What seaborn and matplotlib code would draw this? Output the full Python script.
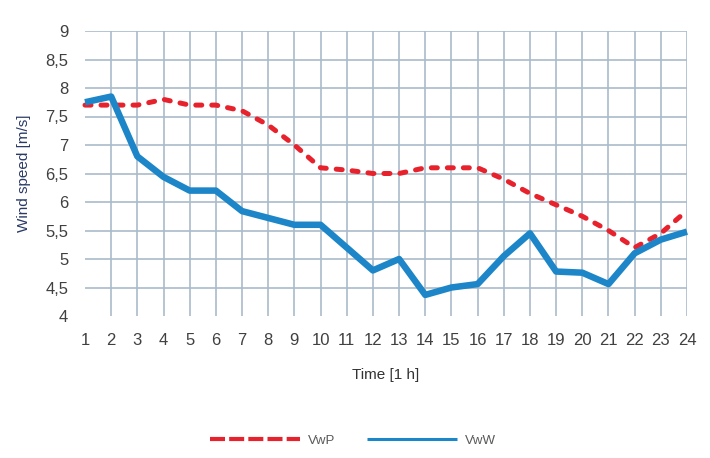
import numpy as np
import pandas as pd
import matplotlib
matplotlib.use("Agg")
import matplotlib.pyplot as plt
import seaborn as sns

hours = list(range(1, 25))
vwp = [7.7, 7.7, 7.7, 7.8, 7.7, 7.7, 7.6, 7.35, 7.0, 6.6, 6.56, 6.5,
       6.5, 6.6, 6.6, 6.6, 6.4, 6.15, 5.95, 5.75, 5.5, 5.2, 5.45, 5.85]
vww = [7.75, 7.85, 6.8, 6.44, 6.2, 6.2, 5.84, 5.72, 5.6, 5.6, 5.2, 4.8,
       5.0, 4.37, 4.5, 4.56, 5.05, 5.45, 4.78, 4.76, 4.56, 5.1, 5.34, 5.48]
series_names = ["VwP", "VwW"]
y_ticks = [4, 4.5, 5, 5.5, 6, 6.5, 7, 7.5, 8, 8.5, 9]
y_labels = ["4", "4,5", "5", "5,5", "6", "6,5", "7", "7,5", "8", "8,5", "9"]

df = pd.DataFrame({
    "Time": hours * 2,
    "Speed": vwp + vww,
    "Series": [series_names[0]] * 24 + [series_names[1]] * 24,
})

sns.set_theme(style="white")
plt.rcParams["font.family"] = ["Liberation Sans", "DejaVu Sans"]

fig = plt.figure(figsize=(7.10, 4.58), dpi=100)
ax = fig.add_axes([85 / 710, 1 - 316 / 458, (687 - 85) / 710, (316 - 31) / 458])

grid_c = "#A9BBCA"
palette = {"VwP": "#E8222C", "VwW": "#1C86C8"}
sns.lineplot(data=df[df.Series == "VwP"], x="Time", y="Speed", color=palette["VwP"],
             linewidth=3.6, ax=ax, label="VwP")
sns.lineplot(data=df[df.Series == "VwW"], x="Time", y="Speed", color=palette["VwW"],
             linewidth=4.7, ax=ax, label="VwW")
red, blue = ax.lines[0], ax.lines[1]
red.set_dashes((1.2, 2.0))
red.set_dash_capstyle("round")
blue.set_solid_capstyle("butt")
for line in ax.lines:
    line.set_clip_on(False)
    line.set_zorder(3)

ax.set_xlim(1, 24)
ax.set_ylim(4, 9)
ax.set_xticks(hours)
ax.set_xticklabels([str(h) for h in hours])
ax.set_yticks(y_ticks)
ax.set_yticklabels(y_labels)
ax.tick_params(axis="x", which="major", length=10, width=1.2, color=grid_c,
               direction="out", pad=2, labelsize=12, labelcolor="#404040")
ax.tick_params(axis="y", length=0, pad=12, labelsize=12, labelcolor="#404040")

ax.grid(axis="x", color=grid_c, linewidth=1.2)
ax.grid(axis="y", color=grid_c, linewidth=1.2)
ax.set_axisbelow(True)
first = ax.xaxis.get_major_ticks()[0]
first.gridline.set_visible(False)
first.tick1line.set_visible(False)
ax.yaxis.get_major_ticks()[0].gridline.set_visible(False)
for s in ax.spines.values():
    s.set_visible(False)

ax.set_xlabel("Time [1 h]", fontsize=11, color="#333333", labelpad=15)
ax.set_ylabel("Wind speed [m/s]", fontsize=11, color="#2a3a66", labelpad=10)

h, l = ax.get_legend_handles_labels()
ax.legend_.remove()
leg = fig.legend(h, l, loc="center", bbox_to_anchor=(0.497, 0.038), ncol=2,
                 frameon=False, fontsize=9.5, handlelength=6.8, columnspacing=2.4,
                 handletextpad=0.6)
for t in leg.get_texts():
    t.set_color("#595959")
lh = leg.get_lines()
lh[0].set_linewidth(3.0)
lh[0].set_dash_capstyle("butt")
lh[0].set_dashes((3.6, 1.0))
lh[1].set_linewidth(2.2)

fig.savefig("out.png", dpi=100)
